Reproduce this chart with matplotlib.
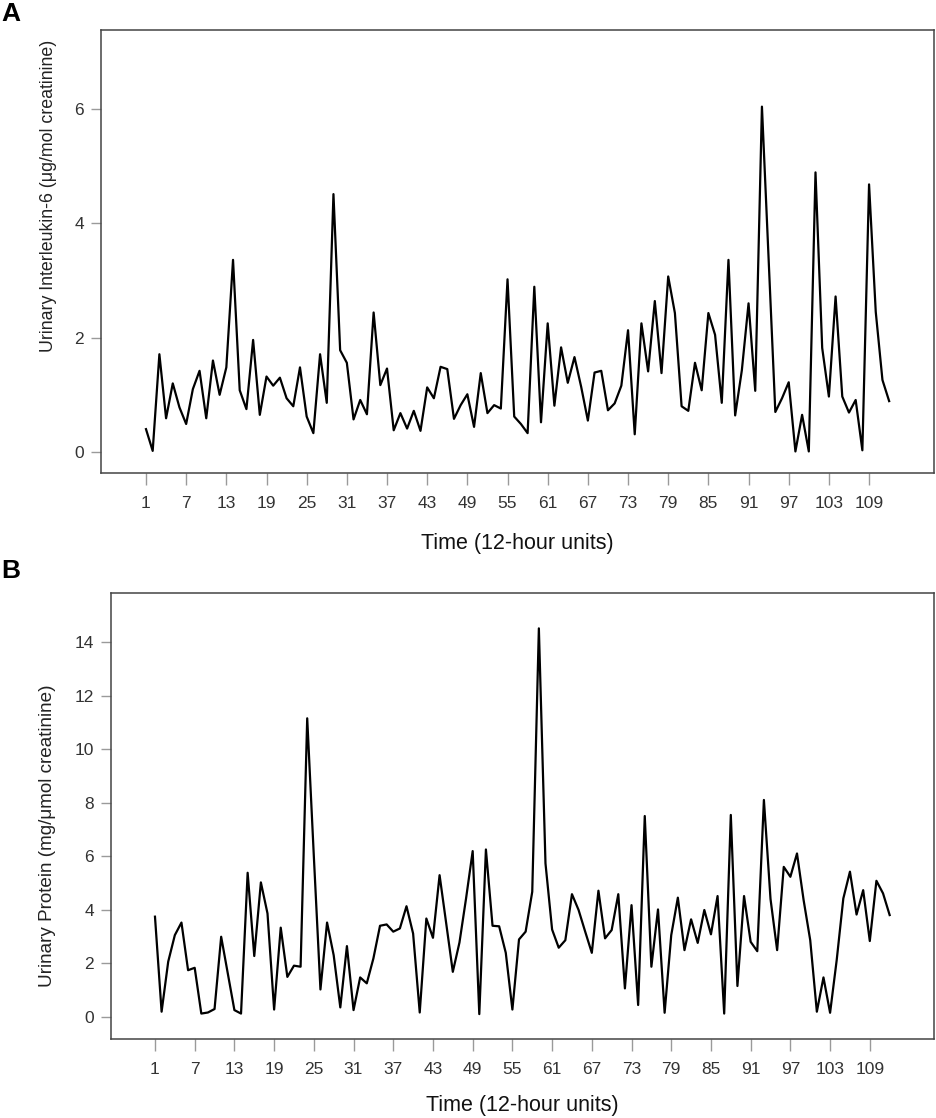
import matplotlib
matplotlib.use("Agg")
import matplotlib.pyplot as plt
import numpy as np

plt.rcParams['font.family'] = ['Liberation Sans', 'DejaVu Sans']

# ---- data ----
time_units = list(range(1, 113))
xtick_values = list(range(1, 110, 6))

il6 = [0.40, 0.02, 1.71, 0.59, 1.20, 0.78, 0.49, 1.10, 1.42, 0.59,
       1.60, 1.00, 1.48, 3.36, 1.08, 0.75, 1.96, 0.65, 1.32, 1.16,
       1.30, 0.94, 0.80, 1.48, 0.62, 0.33, 1.71, 0.86, 4.51, 1.78,
       1.56, 0.57, 0.91, 0.66, 2.44, 1.17, 1.46, 0.38, 0.68, 0.41,
       0.72, 0.37, 1.13, 0.94, 1.49, 1.45, 0.58, 0.82, 1.01, 0.44,
       1.38, 0.68, 0.82, 0.76, 3.02, 0.62, 0.49, 0.33, 2.89, 0.52,
       2.25, 0.81, 1.83, 1.21, 1.66, 1.14, 0.55, 1.39, 1.42, 0.73,
       0.85, 1.16, 2.13, 0.31, 2.25, 1.41, 2.64, 1.38, 3.07, 2.43,
       0.80, 0.72, 1.56, 1.08, 2.43, 2.05, 0.86, 3.36, 0.64, 1.43,
       2.60, 1.07, 6.04, 3.37, 0.70, 0.94, 1.22, 0.01, 0.65, 0.01,
       4.89, 1.82, 0.97, 2.72, 0.97, 0.69, 0.91, 0.03, 4.68, 2.45,
       1.26, 0.89]

protein = [3.74, 0.19, 2.06, 3.05, 3.52, 1.74, 1.83, 0.12, 0.16, 0.29,
           2.99, 1.62, 0.25, 0.12, 5.38, 2.27, 5.02, 3.86, 0.27, 3.33,
           1.49, 1.91, 1.87, 11.15, 6.00, 1.02, 3.52, 2.30, 0.35, 2.64,
           0.25, 1.47, 1.25, 2.18, 3.40, 3.45, 3.18, 3.30, 4.13, 3.11,
           0.16, 3.67, 2.95, 5.29, 3.49, 1.68, 2.77, 4.42, 6.19, 0.10,
           6.25, 3.40, 3.38, 2.39, 0.27, 2.89, 3.18, 4.67, 14.51, 5.73,
           3.26, 2.58, 2.86, 4.58, 3.99, 3.18, 2.39, 4.71, 2.93, 3.24,
           4.58, 1.06, 4.17, 0.44, 7.50, 1.87, 4.01, 0.15, 3.05, 4.45,
           2.49, 3.64, 2.76, 3.99, 3.08, 4.51, 0.12, 7.54, 1.15, 4.51,
           2.80, 2.45, 8.10, 4.40, 2.49, 5.60, 5.23, 6.10, 4.36, 2.86,
           0.19, 1.47, 0.15, 2.12, 4.42, 5.42, 3.82, 4.73, 2.83, 5.08,
           4.61, 3.80]

il6_yticks = [0, 2, 4, 6]
protein_yticks = [0, 2, 4, 6, 8, 10, 12, 14]

W, H = 936, 1118
fig = plt.figure(figsize=(W / 100, H / 100), dpi=100)


def px_axes(left, top, right, bottom):
    return fig.add_axes([left / W, 1 - bottom / H, (right - left) / W, (bottom - top) / H])


def style(ax):
    for s in ax.spines.values():
        s.set_color('#444444')
        s.set_linewidth(1.1)
    ax.tick_params(axis='y', length=7.2, width=1.0, color='#9a9a9a',
                   labelsize=12.5, labelcolor='#333333', pad=5)
    ax.tick_params(axis='x', length=8.6, width=1.0, color='#9a9a9a',
                   labelsize=12.5, labelcolor='#333333', pad=8)


# Panel A
axA = px_axes(101, 30, 934, 473)
axA.plot(time_units, il6, color='black', lw=1.6)
axA.set_xlim(-5.72, 118.7)
axA.set_ylim(-0.367, 7.38)
axA.set_xticks(xtick_values)
axA.set_xticklabels([str(v) for v in xtick_values])
axA.set_yticks(il6_yticks)
style(axA)

# Panel B
axB = px_axes(110.7, 593.3, 934, 1039)
axB.plot(time_units, protein, color='black', lw=1.6)
axB.set_xlim(-5.69, 118.7)
axB.set_ylim(-0.83, 15.82)
axB.set_xticks(xtick_values)
axB.set_xticklabels([str(v) for v in xtick_values])
axB.set_yticks(protein_yticks)
style(axB)

# axis titles
fig.text(517.5 / W, 1 - 543 / H, 'Time (12-hour units)', ha='center', va='center',
         fontsize=15.5, color='#111111')
fig.text(522 / W, 1 - 1105 / H, 'Time (12-hour units)', ha='center', va='center',
         fontsize=15.5, color='#111111')
fig.text(49 / W, 1 - 196 / H, 'Urinary Interleukin-6 (μg/mol creatinine)', rotation=90,
         ha='center', va='center', fontsize=12.8, color='#222222')
fig.text(48 / W, 1 - 836 / H, 'Urinary Protein (mg/μmol creatinine)', rotation=90,
         ha='center', va='center', fontsize=13.6, color='#222222')

# panel letters
fig.text(11 / W, 1 - 14 / H, 'A', ha='center', va='center', fontsize=19, fontweight='bold')
fig.text(11 / W, 1 - 571 / H, 'B', ha='center', va='center', fontsize=19, fontweight='bold')

fig.savefig('out.png', dpi=100)
